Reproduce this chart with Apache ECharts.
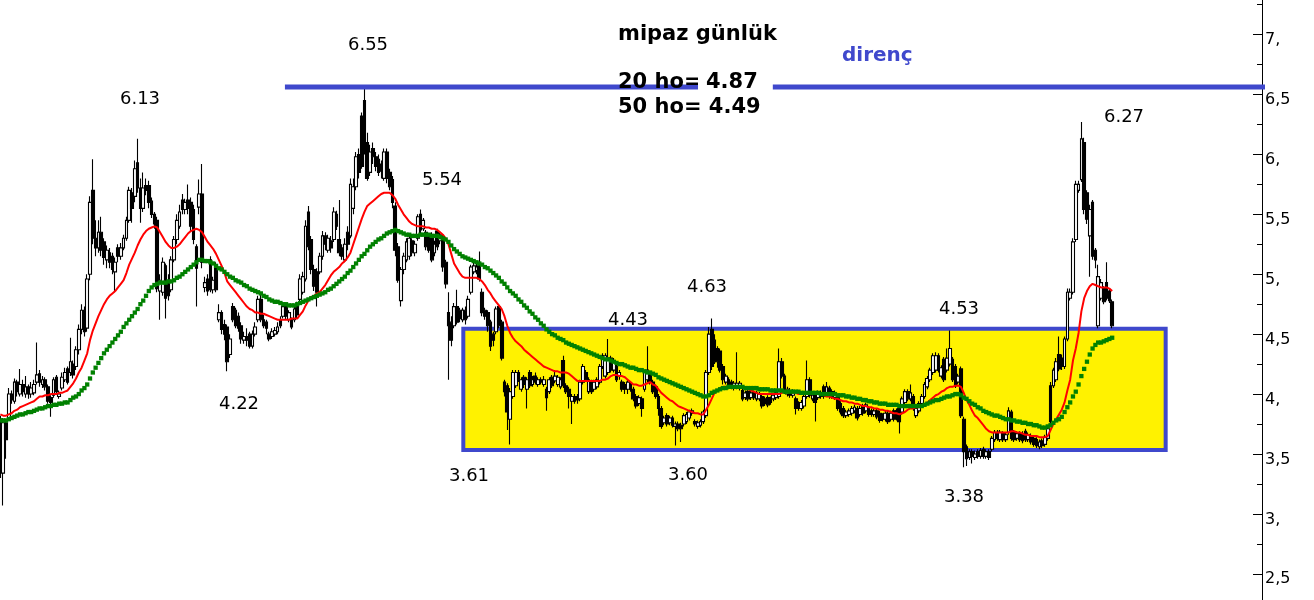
<!DOCTYPE html>
<html><head><meta charset="utf-8">
<script src="https://cdn.jsdelivr.net/npm/echarts@6/dist/echarts.min.js"></script>
<style>html,body{margin:0;padding:0;background:#fff}#c{width:1314px;height:600px}</style>
</head><body><div id="c"></div>
<script>
// daily candles [open, close, low, high]
const ohlc = [
[3.79,3.38,3.30,3.82],[3.34,3.76,3.07,3.80],[3.76,3.62,3.46,3.79],[3.80,4.00,3.78,4.05],[4.00,3.95,3.92,4.03],[3.94,4.10,3.92,4.13],[4.10,4.02,3.98,4.12],[4.00,4.08,3.98,4.21],[4.08,4.02,3.98,4.12],[4.00,4.06,3.97,4.15],
[4.06,4.00,3.96,4.08],[4.00,4.05,3.97,4.10],[4.01,4.08,3.99,4.12],[4.10,4.16,4.08,4.43],[4.17,4.10,4.06,4.20],[4.08,4.12,4.05,4.15],[4.12,4.06,4.03,4.14],[4.06,3.94,3.92,4.08],[3.97,3.93,3.81,3.99],[3.99,4.12,3.97,4.14],
[4.14,4.02,4.00,4.16],[3.98,4.00,3.96,4.03],[4.05,4.14,4.03,4.18],[4.12,4.18,4.10,4.22],[4.21,4.10,4.08,4.23],[4.18,4.27,4.15,4.47],[4.25,4.16,4.13,4.28],[4.23,4.37,4.20,4.40],[4.37,4.54,4.33,4.58],[4.54,4.70,4.50,4.75],
[4.70,4.52,4.48,4.73],[4.55,4.96,4.52,5.00],[5.00,5.60,4.95,5.65],[5.70,5.30,5.25,5.96],[5.30,5.22,5.15,5.45],[5.22,5.35,5.18,5.45],[5.35,5.20,5.15,5.48],[5.27,5.14,5.08,5.30],[5.12,5.20,5.05,5.24],[5.18,5.10,5.05,5.22],
[5.15,5.04,5.00,5.18],[5.02,5.10,4.85,5.14],[5.22,5.15,5.10,5.25],[5.15,5.22,5.12,5.26],[5.22,5.30,5.20,5.33],[5.30,5.45,5.28,5.48],[5.45,5.70,5.43,5.73],[5.68,5.55,5.43,5.72],[5.65,5.88,5.60,5.95],[5.93,5.72,5.68,6.13],
[5.72,5.55,5.43,5.80],[5.55,5.72,5.52,5.85],[5.74,5.70,5.66,5.80],[5.74,5.60,5.55,5.78],[5.61,5.50,5.47,5.64],[5.50,5.42,5.38,5.52],[5.45,4.88,4.85,5.48],[4.86,4.95,4.62,5.00],[4.85,5.10,4.82,5.14],[5.07,4.80,4.63,5.09],
[4.95,4.82,4.78,5.00],[4.87,5.12,4.85,5.15],[5.12,5.29,5.10,5.32],[5.29,5.45,5.25,5.50],[5.40,5.52,5.38,5.58],[5.62,5.54,5.50,5.67],[5.54,5.60,5.50,5.63],[5.62,5.55,5.50,5.75],[5.60,5.40,5.36,5.64],[5.54,5.29,5.25,5.58],
[5.23,5.05,4.73,5.25],[5.56,5.67,5.50,5.79],[5.67,5.10,5.05,5.92],[4.89,4.93,4.85,4.98],[4.96,4.86,4.82,5.00],[5.12,4.87,4.85,5.15],[4.87,4.95,4.84,4.98],[5.07,4.87,4.85,5.10],[4.62,4.68,4.60,4.75],[4.68,4.54,4.50,4.70],
[4.58,4.50,4.45,4.62],[4.56,4.27,4.19,4.58],[4.33,4.46,4.30,4.50],[4.73,4.62,4.60,4.76],[4.70,4.57,4.55,4.72],[4.65,4.55,4.52,4.68],[4.57,4.46,4.42,4.60],[4.45,4.48,4.42,4.52],[4.48,4.45,4.40,4.55],[4.50,4.40,4.38,4.52],
[4.40,4.50,4.38,4.53],[4.50,4.56,4.48,4.60],[4.62,4.79,4.60,4.82],[4.79,4.62,4.60,4.83],[4.62,4.57,4.55,4.66],[4.60,4.55,4.50,4.62],[4.50,4.46,4.44,4.52],[4.48,4.52,4.46,4.55],[4.50,4.53,4.48,4.56],[4.52,4.56,4.50,4.60],
[4.62,4.57,4.55,4.65],[4.65,4.73,4.63,4.76],[4.73,4.65,4.62,4.75],[4.62,4.68,4.60,4.70],[4.62,4.56,4.54,4.64],[4.62,4.71,4.60,4.74],[4.75,4.66,4.63,4.77],[4.79,4.96,4.77,5.00],[4.85,4.98,4.83,5.02],[4.96,5.40,4.94,5.45],
[5.52,5.23,5.20,5.57],[5.29,5.04,5.00,5.32],[5.04,4.90,4.86,5.08],[5.02,4.85,4.73,5.05],[5.02,5.15,5.00,5.18],[5.15,5.32,5.12,5.36],[5.32,5.25,5.20,5.35],[5.20,5.30,5.18,5.33],[5.28,5.22,5.18,5.32],[5.29,5.52,5.27,5.56],
[5.50,5.40,5.37,5.53],[5.29,5.18,5.15,5.62],[5.22,5.15,5.12,5.25],[5.12,5.25,5.10,5.30],[5.35,5.25,5.20,5.40],[5.32,5.75,5.30,5.80],[5.55,5.73,5.50,5.80],[5.73,5.98,5.70,6.02],[6.00,5.85,5.80,6.05],[6.32,5.90,5.88,6.35],
[6.45,6.05,6.00,6.55],[6.10,5.80,5.78,6.18],[5.85,6.02,5.82,6.08],[6.05,5.98,5.92,6.10],[5.98,5.90,5.86,6.02],[5.96,5.85,5.82,6.00],[5.92,5.86,5.80,5.95],[5.80,6.02,5.78,6.05],[6.02,5.80,5.76,6.05],[5.85,5.73,5.70,5.88],
[5.79,5.60,5.55,5.82],[5.57,5.20,5.15,5.60],[5.23,4.95,4.93,5.26],[4.78,5.04,4.73,5.06],[5.04,5.15,5.00,5.18],[5.12,5.27,5.10,5.30],[5.15,5.30,5.12,5.32],[5.28,5.18,5.15,5.30],[5.18,5.25,5.15,5.28],[5.30,5.48,5.28,5.50],
[5.50,5.37,5.33,5.54],[5.38,5.45,5.36,5.47],[5.35,5.23,5.20,5.37],[5.32,5.20,5.18,5.34],[5.32,5.12,5.10,5.35],[5.18,5.25,5.15,5.28],[5.36,5.23,5.20,5.38],[5.28,5.33,5.25,5.36],[5.31,5.06,5.02,5.33],[5.10,4.92,4.88,5.12],
[4.68,4.57,4.12,4.85],[4.60,4.45,4.40,4.65],[4.57,4.73,4.55,4.76],[4.73,4.60,4.58,4.87],[4.70,4.63,4.60,4.72],[4.62,4.70,4.60,4.72],[4.70,4.62,4.58,4.73],[4.65,4.79,4.63,4.82],[4.85,5.06,4.83,5.08],[5.02,5.07,5.00,5.10],
[5.03,5.06,5.00,5.10],[5.07,4.96,4.94,5.19],[4.85,4.68,4.65,4.88],[4.70,4.65,4.62,4.72],[4.68,4.57,4.52,4.70],[4.60,4.40,4.36,4.62],[4.50,4.45,4.40,4.52],[4.52,4.71,4.50,4.73],[4.73,4.57,4.55,4.75],[4.60,4.30,4.28,4.62],
[4.10,4.02,3.98,4.12],[4.07,3.85,3.70,4.09],[3.79,4.02,3.58,4.05],[3.98,4.18,3.96,4.20],[4.07,4.18,4.05,4.20],[4.18,4.12,4.10,4.20],[4.04,4.12,4.02,4.14],[4.14,4.08,4.05,4.16],[4.04,4.12,3.88,4.14],[4.18,4.07,4.05,4.20],
[4.08,4.12,4.06,4.15],[4.15,4.10,4.08,4.18],[4.08,4.12,4.06,4.14],[4.12,4.10,4.08,4.14],[4.08,4.12,4.06,4.15],[4.04,3.97,3.86,4.06],[4.02,4.12,4.00,4.14],[4.14,4.07,4.05,4.16],[4.11,4.15,4.09,4.20],[4.08,4.14,4.06,4.16],
[4.06,4.12,4.04,4.14],[4.28,4.07,4.05,4.32],[4.07,4.02,4.00,4.09],[4.04,3.98,3.88,4.06],[3.94,3.98,3.75,4.00],[3.98,3.94,3.92,4.00],[3.98,3.95,3.92,4.00],[3.96,4.10,3.94,4.12],[4.10,4.23,4.08,4.25],[4.18,4.12,4.10,4.20],
[4.02,4.12,4.00,4.14],[4.10,4.02,4.00,4.12],[4.04,4.10,4.02,4.12],[4.06,4.12,4.04,4.14],[4.10,4.23,4.08,4.25],[4.23,4.32,4.21,4.34],[4.15,4.32,4.13,4.34],[4.18,4.30,4.16,4.46],[4.30,4.20,4.18,4.32],[4.20,4.28,4.18,4.30],
[4.23,4.12,4.10,4.25],[4.15,4.18,4.12,4.20],[4.10,4.04,4.02,4.12],[4.08,4.04,4.00,4.10],[4.04,4.10,4.00,4.12],[4.08,4.04,4.02,4.10],[4.04,3.96,3.94,4.06],[3.98,3.90,3.88,4.00],[3.92,3.97,3.90,3.99],[3.96,3.88,3.81,3.98],
[4.04,4.18,4.02,4.20],[4.12,4.20,4.10,4.40],[4.16,4.10,4.08,4.18],[4.10,4.02,4.00,4.12],[4.06,3.98,3.96,4.08],[3.98,3.88,3.82,4.00],[3.88,3.73,3.71,3.90],[3.76,3.80,3.74,3.82],[3.82,3.75,3.73,3.84],[3.76,3.80,3.74,3.82],
[3.80,3.74,3.72,3.82],[3.73,3.75,3.57,3.77],[3.75,3.71,3.69,3.77],[3.74,3.71,3.60,3.76],[3.75,3.82,3.73,3.84],[3.77,3.83,3.75,3.85],[3.80,3.85,3.78,3.87],[3.84,3.86,3.82,3.88],[3.77,3.75,3.73,3.79],[3.73,3.76,3.71,3.78],
[3.74,3.77,3.72,3.79],[3.77,3.85,3.75,3.87],[3.82,4.18,3.80,4.20],[4.18,4.50,4.16,4.56],[4.54,4.23,4.20,4.63],[4.45,4.27,4.25,4.50],[4.38,4.27,4.22,4.40],[4.36,4.20,4.18,4.38],[4.23,4.12,4.08,4.25],[4.10,4.15,4.08,4.17],
[4.12,4.06,4.04,4.14],[4.10,4.06,4.04,4.12],[4.05,4.09,4.03,4.11],[4.06,4.09,4.04,4.35],[4.05,4.09,4.03,4.11],[4.03,3.96,3.94,4.05],[3.97,4.01,3.95,4.03],[4.02,3.96,3.94,4.04],[3.97,4.01,3.95,4.03],[4.01,3.97,3.95,4.03],
[3.96,4.01,3.94,4.03],[3.96,4.00,3.94,4.02],[3.98,3.90,3.88,4.00],[3.96,3.92,3.90,3.98],[3.97,3.91,3.89,3.99],[3.96,3.93,3.91,3.98],[3.96,3.99,3.94,4.01],[3.97,4.01,3.95,4.03],[3.98,4.27,3.96,4.38],[4.27,4.15,4.13,4.30],
[4.15,4.02,4.00,4.17],[4.00,4.04,3.98,4.06],[4.03,3.99,3.97,4.05],[3.99,4.02,3.97,4.04],[3.96,3.88,3.83,3.98],[3.92,3.88,3.86,3.94],[3.88,3.93,3.86,3.95],[3.90,3.98,3.88,4.00],[3.98,4.12,3.96,4.28],[4.12,3.99,3.97,4.14],
[3.96,3.99,3.94,4.01],[4.00,3.93,3.77,4.02],[3.97,4.01,3.95,4.03],[3.98,4.01,3.96,4.03],[4.06,3.98,3.96,4.08],[4.00,4.06,3.98,4.10],[4.05,3.98,3.96,4.07],[3.98,4.02,3.96,4.04],[3.97,4.01,3.95,4.03],[3.98,3.88,3.86,4.00],
[3.92,3.85,3.83,3.94],[3.88,3.82,3.80,3.90],[3.82,3.85,3.80,3.87],[3.83,3.86,3.81,3.88],[3.84,3.88,3.82,3.90],[3.86,3.89,3.84,3.91],[3.88,3.80,3.78,3.90],[3.83,3.88,3.81,3.90],[3.90,3.84,3.82,3.92],[3.86,3.91,3.84,3.93],
[3.88,3.83,3.81,3.90],[3.86,3.83,3.81,3.88],[3.83,3.86,3.81,3.88],[3.86,3.81,3.79,3.88],[3.84,3.78,3.76,3.86],[3.82,3.79,3.77,3.84],[3.79,3.84,3.77,3.86],[3.84,3.77,3.75,3.86],[3.79,3.84,3.77,3.86],[3.86,3.79,3.77,3.88],
[3.86,3.80,3.78,3.88],[3.88,3.77,3.67,3.90],[3.85,3.96,3.83,3.98],[3.93,4.02,3.91,4.04],[4.02,3.96,3.94,4.04],[3.96,4.01,3.94,4.08],[3.98,3.88,3.86,4.00],[3.82,3.88,3.80,3.90],[3.86,3.92,3.84,3.94],[3.92,3.98,3.90,4.00],
[3.98,4.08,3.96,4.10],[4.06,4.13,4.04,4.15],[4.12,4.20,4.10,4.22],[4.18,4.32,4.16,4.34],[4.20,4.32,4.18,4.35],[4.32,4.20,4.18,4.34],[4.15,4.22,4.13,4.24],[4.29,4.12,4.10,4.31],[4.20,4.30,4.18,4.38],[4.25,4.38,4.23,4.53],
[4.29,4.12,4.10,4.31],[4.23,4.07,4.05,4.25],[4.10,4.15,4.08,4.17],[4.21,3.82,3.80,4.23],[3.79,3.52,3.39,3.81],[3.56,3.46,3.40,3.58],[3.47,3.52,3.45,3.54],[3.52,3.48,3.42,3.54],[3.47,3.50,3.45,3.53],[3.52,3.48,3.46,3.54],
[3.48,3.53,3.46,3.55],[3.54,3.48,3.46,3.56],[3.48,3.52,3.46,3.54],[3.52,3.47,3.45,3.54],[3.54,3.63,3.52,3.65],[3.62,3.68,3.60,3.70],[3.68,3.63,3.61,3.70],[3.62,3.68,3.60,3.70],[3.67,3.62,3.60,3.69],[3.62,3.66,3.60,3.68],
[3.68,3.86,3.66,3.89],[3.85,3.63,3.61,3.87],[3.68,3.62,3.60,3.70],[3.63,3.67,3.61,3.69],[3.67,3.62,3.60,3.69],[3.67,3.61,3.59,3.69],[3.69,3.62,3.60,3.71],[3.62,3.66,3.60,3.68],[3.65,3.60,3.58,3.67],[3.63,3.58,3.56,3.65],
[3.62,3.57,3.55,3.64],[3.56,3.60,3.54,3.62],[3.61,3.57,3.55,3.63],[3.58,3.64,3.56,3.66],[3.63,3.71,3.61,3.73],[4.07,3.77,3.74,4.10],[4.07,4.20,4.05,4.22],[4.12,4.27,4.10,4.30],[4.33,4.21,4.19,4.48],[4.30,4.23,4.20,4.33],
[4.23,4.46,4.21,4.48],[4.46,4.85,4.44,4.88],[4.80,4.85,4.78,4.88],[4.85,5.27,4.83,5.30],[5.29,5.75,5.27,5.78],[5.70,5.75,5.68,5.78],[5.79,6.13,5.77,6.27],[6.10,5.54,5.50,6.14],[5.68,5.46,5.42,5.70],[5.32,5.54,4.98,5.58],
[5.60,5.15,5.12,5.62],[5.20,5.12,5.05,5.22],[4.57,4.98,4.55,5.08],[4.80,4.93,4.78,4.96],[4.88,4.77,4.75,4.90],[4.93,4.80,4.78,5.10],[4.86,4.78,4.76,4.88],[4.77,4.57,4.55,4.79]
];
// 20-day moving average (red)
const ma20 = [
3.83,3.82,3.82,3.83,3.84,3.86,3.87,3.89,3.90,3.91,
3.92,3.93,3.94,3.96,3.98,3.98,3.99,3.99,4.00,4.00,
4.00,4.01,4.01,4.02,4.03,4.06,4.09,4.13,4.18,4.22,
4.28,4.34,4.45,4.53,4.59,4.65,4.70,4.75,4.79,4.82,
4.84,4.86,4.89,4.92,4.95,5.01,5.08,5.13,5.18,5.24,
5.29,5.33,5.36,5.38,5.39,5.40,5.39,5.35,5.31,5.27,
5.24,5.22,5.22,5.23,5.25,5.28,5.31,5.34,5.36,5.37,
5.38,5.37,5.35,5.31,5.27,5.24,5.21,5.17,5.12,5.07,
5.01,4.94,4.91,4.88,4.85,4.82,4.79,4.76,4.73,4.71,
4.70,4.68,4.68,4.67,4.67,4.66,4.65,4.64,4.63,4.62,
4.62,4.62,4.62,4.62,4.63,4.63,4.63,4.66,4.69,4.74,
4.78,4.81,4.82,4.84,4.85,4.88,4.91,4.95,4.99,5.02,
5.04,5.06,5.09,5.11,5.14,5.18,5.25,5.32,5.39,5.46,
5.52,5.57,5.59,5.61,5.63,5.65,5.67,5.68,5.68,5.68,
5.66,5.63,5.58,5.54,5.50,5.47,5.44,5.42,5.41,5.40,
5.40,5.40,5.39,5.39,5.38,5.38,5.37,5.35,5.33,5.30,
5.25,5.17,5.09,5.05,5.01,4.98,4.97,4.97,4.97,4.97,
4.97,4.96,4.94,4.91,4.87,4.84,4.80,4.77,4.74,4.71,
4.65,4.57,4.51,4.47,4.44,4.42,4.40,4.37,4.35,4.33,
4.31,4.29,4.27,4.25,4.23,4.22,4.21,4.20,4.19,4.19,
4.18,4.18,4.18,4.17,4.15,4.13,4.11,4.11,4.11,4.11,
4.11,4.11,4.11,4.11,4.11,4.12,4.12,4.13,4.15,4.16,
4.16,4.15,4.15,4.14,4.12,4.10,4.08,4.08,4.07,4.07,
4.08,4.09,4.10,4.08,4.07,4.04,4.01,3.99,3.97,3.95,
3.94,3.92,3.90,3.89,3.88,3.87,3.86,3.85,3.84,3.84,
3.83,3.83,3.87,3.91,3.96,4.01,4.03,4.05,4.06,4.06,
4.06,4.06,4.06,4.06,4.06,4.05,4.05,4.04,4.03,4.02,
4.01,4.00,4.00,4.00,4.00,4.00,4.00,4.00,4.00,4.01,
4.02,4.03,4.02,4.01,4.01,4.00,4.00,4.00,4.00,4.00,
4.00,4.00,4.00,4.00,3.99,3.98,3.98,3.97,3.96,3.96,
3.95,3.94,3.94,3.93,3.93,3.92,3.92,3.91,3.90,3.90,
3.89,3.89,3.88,3.88,3.87,3.87,3.86,3.86,3.85,3.84,
3.84,3.83,3.84,3.85,3.87,3.88,3.88,3.89,3.89,3.90,
3.91,3.93,3.95,3.97,3.99,4.00,4.02,4.03,4.05,4.06,
4.06,4.07,4.07,4.06,4.01,3.95,3.91,3.86,3.82,3.80,
3.77,3.74,3.71,3.69,3.68,3.68,3.68,3.68,3.68,3.68,
3.68,3.69,3.69,3.68,3.68,3.67,3.66,3.66,3.65,3.65,
3.65,3.64,3.64,3.64,3.65,3.70,3.75,3.79,3.83,3.87,
3.93,4.03,4.12,4.28,4.38,4.51,4.69,4.80,4.86,4.90,
4.92,4.91,4.90,4.89,4.89,4.89,4.88,4.86
];
// 50-day moving average (green)
const ma50 = [
3.78,3.78,3.78,3.79,3.80,3.81,3.82,3.83,3.83,3.84,
3.85,3.85,3.86,3.87,3.88,3.88,3.89,3.90,3.90,3.91,
3.91,3.92,3.92,3.93,3.93,3.95,3.97,3.98,4.00,4.03,
4.05,4.08,4.13,4.18,4.22,4.26,4.30,4.34,4.37,4.40,
4.43,4.46,4.49,4.52,4.56,4.59,4.62,4.65,4.68,4.71,
4.75,4.78,4.82,4.86,4.89,4.91,4.92,4.93,4.93,4.93,
4.94,4.94,4.95,4.97,4.98,5.00,5.02,5.04,5.06,5.08,
5.10,5.12,5.12,5.11,5.11,5.10,5.09,5.07,5.05,5.04,
5.02,5.00,4.98,4.97,4.95,4.94,4.93,4.91,4.90,4.88,
4.87,4.86,4.85,4.84,4.82,4.81,4.79,4.78,4.77,4.77,
4.76,4.75,4.75,4.74,4.74,4.74,4.75,4.76,4.77,4.78,
4.79,4.80,4.81,4.82,4.83,4.84,4.85,4.87,4.88,4.90,
4.92,4.94,4.96,4.98,5.01,5.03,5.06,5.09,5.12,5.15,
5.17,5.20,5.23,5.25,5.27,5.29,5.30,5.32,5.34,5.35,
5.36,5.37,5.36,5.35,5.34,5.33,5.33,5.32,5.32,5.32,
5.33,5.33,5.33,5.33,5.32,5.32,5.32,5.31,5.30,5.29,
5.27,5.24,5.21,5.19,5.17,5.15,5.14,5.13,5.12,5.11,
5.10,5.09,5.08,5.06,5.05,5.03,5.01,4.99,4.97,4.94,
4.92,4.89,4.86,4.84,4.82,4.79,4.77,4.74,4.72,4.69,
4.67,4.64,4.62,4.59,4.57,4.54,4.52,4.50,4.49,4.47,
4.46,4.45,4.43,4.42,4.41,4.40,4.39,4.38,4.37,4.36,
4.35,4.34,4.33,4.32,4.31,4.30,4.29,4.29,4.28,4.27,
4.26,4.25,4.25,4.24,4.23,4.22,4.22,4.21,4.20,4.20,
4.19,4.18,4.18,4.17,4.16,4.14,4.13,4.12,4.11,4.10,
4.09,4.08,4.07,4.06,4.05,4.04,4.03,4.02,4.01,4.00,
3.99,3.98,3.98,3.99,4.01,4.02,4.03,4.04,4.05,4.05,
4.06,4.06,4.06,4.06,4.06,4.06,4.05,4.05,4.05,4.05,
4.05,4.04,4.04,4.04,4.04,4.03,4.03,4.03,4.03,4.03,
4.02,4.02,4.02,4.02,4.02,4.02,4.01,4.01,4.01,4.01,
4.01,4.01,4.01,4.00,4.00,4.00,4.00,4.00,4.00,3.99,
3.99,3.99,3.98,3.98,3.97,3.97,3.96,3.96,3.95,3.95,
3.94,3.94,3.93,3.93,3.92,3.92,3.92,3.91,3.91,3.91,
3.91,3.90,3.90,3.90,3.90,3.90,3.90,3.90,3.90,3.90,
3.91,3.92,3.93,3.94,3.95,3.95,3.96,3.97,3.98,3.98,
3.99,4.00,4.00,3.99,3.97,3.96,3.94,3.92,3.91,3.89,
3.88,3.86,3.85,3.84,3.83,3.82,3.82,3.81,3.80,3.79,
3.79,3.78,3.78,3.77,3.77,3.76,3.76,3.75,3.75,3.74,
3.74,3.73,3.72,3.72,3.73,3.74,3.76,3.78,3.79,3.81,
3.85,3.89,3.93,3.98,4.02,4.08,4.15,4.21,4.27,4.33,
4.38,4.41,4.43,4.43,4.44,4.45,4.46,4.47
];
const yTickValues = [2, 2.5, 3, 3.5, 4, 4.5, 5, 5.5, 6, 6.5, 7, 7.5];
const yTickLabels = ['2,', '2,5', '3,', '3,5', '4,', '4,5', '5,', '5,5', '6,', '6,5', '7,', '7,5'];
// hand-drawn annotations (bar index / price units)
const supportBox = { from: 165.3, to: 416.1, low: 3.533, high: 4.546 };
const resistance = { from: 101.6, to: 469.9, level: 6.5625 };
const days = ohlc.map((d, i) => 'g' + (i + 1));
while (days.length < 451) days.push('g' + (days.length + 1));

const FONT = '"DejaVu Sans", Verdana, sans-serif';
function note(text, x, y) {
  return { type: 'text', x: x, y: y, z: 100, style: { text: text, fill: '#000', font: '18px ' + FONT, align: 'center', verticalAlign: 'middle' } };
}
function bold(text, x, y, extra) {
  return { type: 'text', x: x, y: y, z: 100, style: Object.assign({ text: text, fill: '#000', font: 'bold 21px ' + FONT, align: 'left', verticalAlign: 'middle' }, extra || {}) };
}

const chart = echarts.init(document.getElementById('c'), null, { renderer: 'canvas' });
chart.setOption({
  animation: false,
  backgroundColor: '#fff',
  grid: { left: -1, right: 52, top: -25.3, height: 659, containLabel: false, outerBoundsMode: 'none' },
  xAxis: [
    { type: 'category', data: days, show: false, boundaryGap: true },
    { type: 'value', min: -0.5, max: 450.5, show: false }
  ],
  yAxis: {
    type: 'value', position: 'right', min: 2, max: 7.5, interval: 0.5,
    axisLine: { show: true, onZero: false, lineStyle: { color: '#000', width: 1 } },
    axisTick: { show: true, inside: true, length: 9, lineStyle: { color: '#000' } },
    minorTick: { show: true, splitNumber: 2, length: 5, lineStyle: { color: '#000' } },
    splitLine: { show: false },
    axisLabel: {
      show: true, margin: 3, color: '#000', fontFamily: 'DejaVu Sans', fontSize: 16,
      verticalAlign: 'top', lineHeight: 11,
      formatter: function (v) {
        const k = yTickValues.findIndex(function (t) { return Math.abs(t - v) < 1e-6; });
        return k >= 0 ? yTickLabels[k] : '';
      }
    }
  },
  series: [
    {
      type: 'line', xAxisIndex: 1, data: [[supportBox.from, supportBox.low]], symbol: 'none',
      lineStyle: { opacity: 0 }, z: 1, silent: true,
      markArea: {
        silent: true,
        itemStyle: { color: '#FFF200', borderColor: '#3F48CC', borderWidth: 4 },
        data: [[{ coord: [supportBox.from, supportBox.high] }, { coord: [supportBox.to, supportBox.low] }]]
      }
    },
    {
      type: 'candlestick', data: ohlc, barWidth: 3.2, z: 3,
      itemStyle: { color: '#fff', color0: '#000', borderColor: '#000', borderColor0: '#000', borderWidth: 1.1 }
    },
    { type: 'line', data: ma20, symbol: 'none', lineStyle: { color: '#ff0000', width: 2 }, z: 4 },
    {
      type: 'line', data: ma50, symbol: 'rect', symbolSize: 4.3, showSymbol: true, showAllSymbol: true,
      lineStyle: { opacity: 0, width: 0 }, itemStyle: { color: '#008000' }, z: 5
    },
    {
      type: 'line', xAxisIndex: 1, clip: false, symbol: 'none', z: 6,
      data: [[resistance.from, resistance.level], [resistance.to, resistance.level]],
      lineStyle: { color: '#3F48CC', width: 5 }
    }
  ],
  graphic: [
    note('6.13', 140, 99), note('6.55', 368, 45), note('5.54', 442, 180), note('4.22', 239, 404),
    note('3.61', 469, 476), note('4.43', 628, 320), note('4.63', 707, 287), note('3.60', 688, 475),
    note('4.53', 959, 309), note('3.38', 964, 497), note('6.27', 1124, 117),
    bold('mipaz günlük', 618, 34.5),
    bold('20 ho=', 618, 82.6),
    bold('4.87', 698, 82.6, { backgroundColor: '#fff', padding: [2, 15, 2, 8] }),
    bold('50 ho= 4.49', 618, 107.6),
    { type: 'text', x: 842, y: 56, z: 100, style: { text: 'direnç', fill: '#3F48CC', font: 'bold 20px ' + FONT, align: 'left', verticalAlign: 'middle' } }
  ]
});
</script>
</body></html>
